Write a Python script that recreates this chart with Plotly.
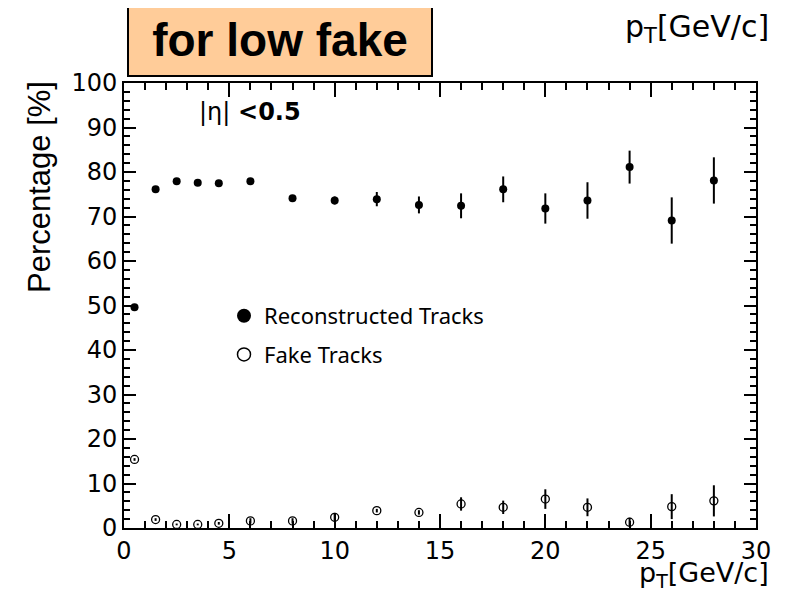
import plotly.graph_objects as go

# ---- data ----
pt = [0.5, 1.5, 2.5, 3.5, 4.5, 6, 8, 10, 12, 14, 16, 18, 20, 22, 24, 26, 28]
reco = [49.6, 76.1, 77.9, 77.6, 77.5, 77.9, 74.1, 73.6, 73.9, 72.6, 72.4, 76.1, 71.8, 73.6, 81.1, 69.1, 78.1]
reco_err = [0.3, 0.3, 0.3, 0.3, 0.4, 0.5, 0.6, 0.9, 1.6, 1.9, 2.8, 2.9, 3.4, 4.1, 3.7, 5.2, 5.2]
fake = [15.4, 1.9, 0.8, 0.8, 1.05, 1.6, 1.6, 2.4, 3.9, 3.5, 5.4, 4.65, 6.5, 4.65, 1.3, 4.8, 6.1]
fake_err = [0.3, 0.3, 0.2, 0.2, 0.3, 0.6, 0.6, 1.0, 0.4, 0.5, 1.5, 1.5, 2.2, 2.0, 1.0, 2.8, 3.5]

legend_names = ["Reconstructed Tracks", "Fake Tracks"]
x_ticks = [0, 5, 10, 15, 20, 25, 30]
y_ticks = [0, 10, 20, 30, 40, 50, 60, 70, 80, 90, 100]

fig = go.Figure()

fig.add_trace(go.Scatter(
    x=pt, y=reco, mode="markers", showlegend=False,
    marker=dict(symbol="circle", size=8, color="black"),
    error_y=dict(type="data", array=reco_err, color="black", thickness=2, width=0),
))
fig.add_trace(go.Scatter(
    x=pt, y=fake, mode="markers", showlegend=False,
    marker=dict(symbol="circle-open", size=8, color="black", line=dict(width=1.3)),
    error_y=dict(type="data", array=fake_err, color="black", thickness=2, width=0),
))
# legend entries
fig.add_trace(go.Scatter(
    x=[None], y=[None], mode="markers", name=legend_names[0], legendgroup="a",
    marker=dict(symbol="circle", size=14, color="black"),
))
fig.add_trace(go.Scatter(
    x=[None], y=[None], mode="markers", name=legend_names[1], legendgroup="b",
    marker=dict(symbol="circle-open", size=13, color="black", line=dict(width=1.5)),
))

tickfont = dict(family="DejaVu Sans, Liberation Sans, sans-serif", size=24, color="black")

fig.update_xaxes(
    range=[0, 30], tickvals=x_ticks, ticks="inside", ticklen=14, tickwidth=1.5,
    tickcolor="black", showline=True, linecolor="black", linewidth=2,
    mirror="allticks", showgrid=False, zeroline=False, tickfont=tickfont,
    minor=dict(dtick=1, ticks="inside", ticklen=7, tickwidth=1.5, tickcolor="black", showgrid=False),
)
fig.update_yaxes(
    range=[0, 100], tickvals=y_ticks, ticks="inside", ticklen=12, tickwidth=1.5,
    tickcolor="black", showline=True, linecolor="black", linewidth=2,
    mirror="allticks", showgrid=False, zeroline=False, tickfont=tickfont,
    minor=dict(dtick=2, ticks="inside", ticklen=6, tickwidth=1.5, tickcolor="black", showgrid=False),
)

# page body has an 8px margin; compensate so the screen geometry matches
OFF = 8
W, H = 788 - OFF, 595 - OFF
L, R, T, B = 124 - OFF, 32, 83 - OFF, 67
pw, ph = W - L - R, H - T - B

def px(x):
    return (x - OFF - L) / pw

def py(y):
    return (H - B - (y - OFF)) / ph

annos = [
    dict(text="<b>for low fake</b>", x=px(280), y=py(40), xref="paper", yref="paper",
         showarrow=False, xanchor="center", yanchor="middle",
         font=dict(family="Liberation Sans, Arial, sans-serif", size=46, color="black"),
         bgcolor="#FFCC99", bordercolor="black", borderwidth=2, width=300, height=68),
    dict(text="p<sub>T</sub>[GeV/c]", x=px(771), y=py(7), xref="paper", yref="paper",
         showarrow=False, xanchor="right", yanchor="top",
         font=dict(family="DejaVu Sans, Liberation Sans, sans-serif", size=30, color="black")),
    dict(text="p<sub>T</sub>[GeV/c]", x=px(771), y=py(594), xref="paper", yref="paper",
         showarrow=False, xanchor="right", yanchor="bottom",
         font=dict(family="DejaVu Sans, Liberation Sans, sans-serif", size=27, color="black")),
    dict(text="Percentage [%]", x=px(39), y=py(79), xref="paper", yref="paper",
         showarrow=False, xanchor="center", yanchor="top", textangle=-90,
         font=dict(family="Liberation Sans, Arial, sans-serif", size=31, color="black")),
    dict(text="|η| <b><0.5</b>", x=px(197), y=py(112), xref="paper", yref="paper",
         showarrow=False, xanchor="left", yanchor="middle",
         font=dict(family="DejaVu Sans, Liberation Sans, sans-serif", size=24, color="black")),
]

fig.update_layout(
    width=W, height=H, margin=dict(l=L, r=R, t=T, b=B),
    paper_bgcolor="white", plot_bgcolor="white",
    annotations=annos,
    legend=dict(x=px(224), y=py(295), xanchor="left", yanchor="top",
                bgcolor="rgba(0,0,0,0)", traceorder="grouped", tracegroupgap=7,
                font=dict(family="Noto Sans, DejaVu Sans, sans-serif", size=22, color="black")),
)

fig.write_html("out.html")
